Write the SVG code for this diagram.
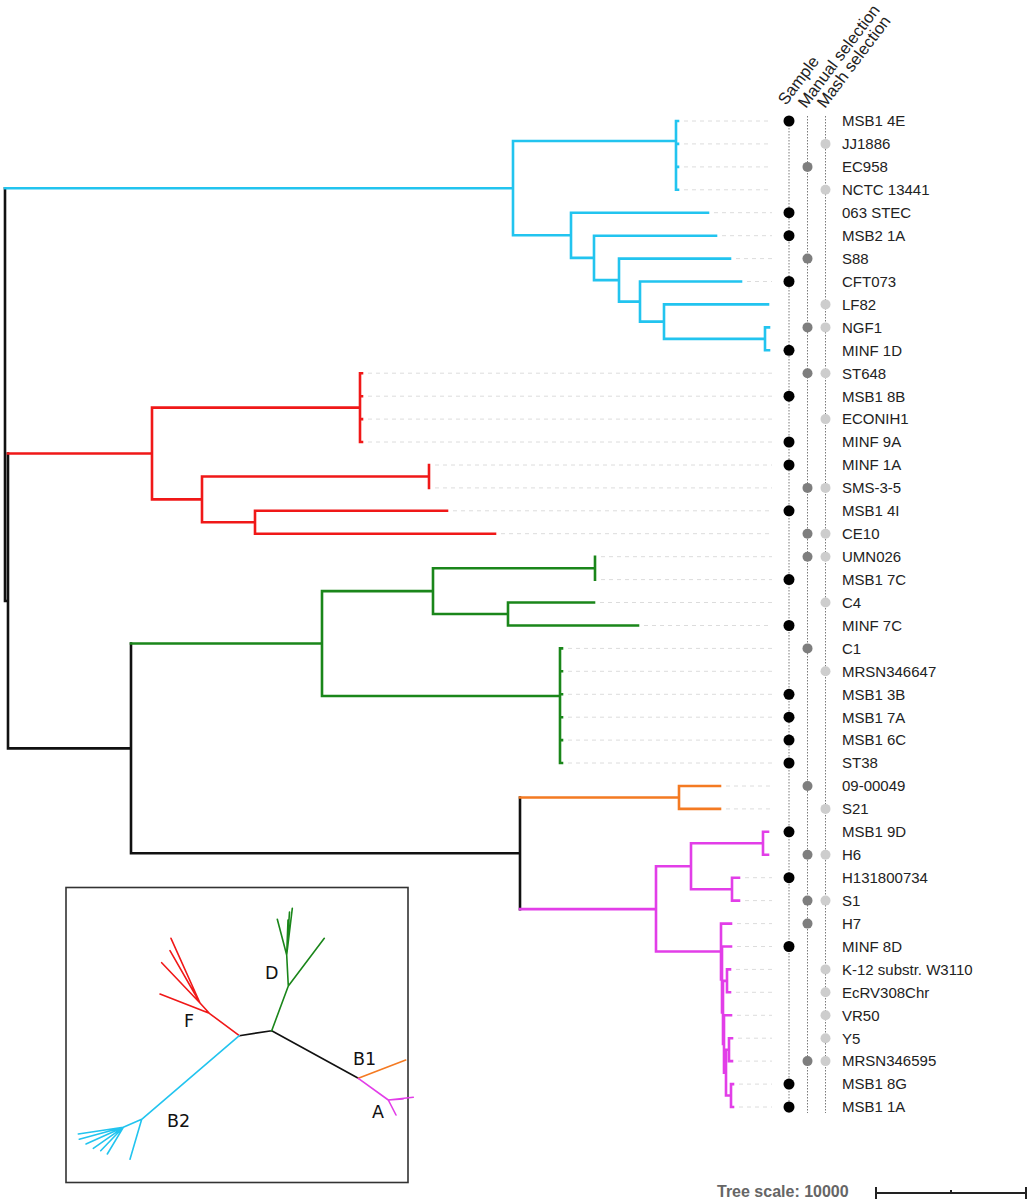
<svg xmlns="http://www.w3.org/2000/svg" width="1031" height="1200" viewBox="0 0 1031 1200">
<style>
.b{fill:none;stroke-width:2.6;stroke-linecap:square;stroke-linejoin:miter}
.k{stroke:#111}
.cy{stroke:#22c4ef}
.rd{stroke:#f01818}
.gn{stroke:#1a861a}
.or{stroke:#f47a22}
.pk{stroke:#e23ee8}
.i{fill:none;stroke-width:1.6;stroke-linecap:round;stroke-linejoin:round}
.ld{stroke:#dcdcdc;stroke-width:1;stroke-dasharray:4 4;fill:none}
.col{stroke:#7a7a7a;stroke-width:1;stroke-dasharray:1.5 1.5;fill:none}
.lb{font-family:"Liberation Sans",Arial,sans-serif;font-size:15px;fill:#222}
.hd{font-family:"Liberation Sans",Arial,sans-serif;font-size:16.5px;fill:#222}
.s{fill:#000}
.m{fill:#7e7e7e}
.h{fill:#cdcdcd}
.il{font-family:"DejaVu Sans",Verdana,sans-serif;font-size:17.5px;fill:#111}
</style>
<rect width="1031" height="1200" fill="#fff"/>

<!-- headers -->
<g id="headers">
<text class="hd" transform="translate(786,106) rotate(-53)">Sample</text>
<text class="hd" transform="translate(806,109) rotate(-53)">Manual selection</text>
<text class="hd" transform="translate(825,109) rotate(-53)">Mash selection</text>
</g>

<!-- columns -->
<g id="columns">
<path class="col" d="M789,116 V1113"/>
<path class="col" d="M807.5,116 V1113"/>
<path class="col" d="M825.5,116 V1113"/>
</g>

<!-- leaders -->
<g id="leaders">
<path class="ld" d="M684,121H772 M684,143.9H772 M684,166.9H772 M684,189.8H772 M714,212.7H772 M722,235.7H772 M736,258.6H772 M747,281.5H772
M368,373.2H772 M368,396.2H772 M368,419.1H772 M368,442H772 M435,465H772 M435,487.9H772 M453,510.8H772 M501,533.7H772
M601,556.7H772 M601,579.6H772 M600,602.5H772 M644,625.5H772 M568,648.4H772 M568,671.3H772 M568,694.3H772 M568,717.2H772 M568,740.1H772 M568,763H772
M726,786H772 M726,808.9H772 M745,877.7H772 M745,900.6H772 M737,923.6H772 M737,946.5H772 M736,969.4H772 M736,992.3H772 M737,1015.3H772 M738,1038.2H772 M738,1061.1H772 M739,1084.1H772 M739,1107H772"/>
</g>

<!-- connectors: tree branches -->
<g id="connectors">
<path class="b k" d="M5,188.2V601 M5,601H8 M8,453.5V748.4 M8,748.4H131 M131,643.5V853.3 M131,853.3H520 M520,797.5V909.1"/>
<path class="b cy" d="M5,188.2H513 M513,141V235.3 M513,141H676 M676,121V189.8 M676,121H678 M676,143.9H678 M676,166.9H678 M676,189.8H678
M513,235.3H571 M571,212.7V257.9 M571,212.7H708 M571,257.9H594 M594,235.7V280.1 M594,235.7H716 M594,280.1H619 M619,258.6V301.6 M619,258.6H730
M619,301.6H640 M640,281.5V321.6 M640,281.5H741 M640,321.6H664 M664,304.4V338.9 M664,304.4H768 M664,338.9H765 M765,327.4V350.3 M765,327.4H769 M765,350.3H769"/>
<path class="b rd" d="M8,453.5H152 M152,407.6V499.4 M152,407.6H360 M360,373.2V442 M360,373.2H362 M360,396.2H362 M360,419.1H362 M360,442H362
M152,499.4H202 M202,476.5V522.3 M202,476.5H429 M429,465V487.9 M202,522.3H255 M255,510.8V533.7 M255,510.8H447 M255,533.7H495"/>
<path class="b gn" d="M131,643.5H322 M322,591.1V696 M322,591.1H433 M433,568.2V614 M433,568.2H595 M595,556.7V579.6 M433,614H508 M508,602.5V625.5 M508,602.5H594 M508,625.5H638
M322,696H560 M560,648.4V763 M560,648.4H562 M560,671.3H562 M560,694.3H562 M560,717.2H562 M560,740.1H562 M560,763H562"/>
<path class="b or" d="M520,797.5H679 M679,786V808.9 M679,786H720 M679,808.9H720"/>
<path class="b pk" d="M520,909.1H656 M656,866.2V951.5 M656,866.2H691 M691,843.3V889.2 M691,843.3H763 M763,831.8V854.8 M763,831.8H768 M763,854.8H768
M691,889.2H732 M732,877.7V900.6 M732,877.7H739 M732,900.6H739
M656,951.5H721 M721,923.6V979.5 M721,923.6H731 M721,979.5H722 M722,946.5V1012.4 M722,946.5H731 M722,1012.4H723 M723,980.9V1044 M723,980.9H727
M727,969.4V992.3 M727,969.4H730 M727,992.3H730 M723,1044H724 M724,1015.3V1072.6 M724,1015.3H731 M724,1072.6H726 M726,1049.7V1095.5 M726,1049.7H729
M729,1038.2V1061.1 M729,1038.2H732 M729,1061.1H732 M726,1095.5H731 M731,1084.1V1107 M731,1084.1H733 M731,1107H733"/>
</g>

<!-- leaves -->
<g id="leaf-MSB1-4E"><circle class="s" cx="789" cy="121" r="5.5"/><text class="lb" x="842" y="126.3">MSB1 4E</text></g>
<g id="leaf-JJ1886"><circle class="h" cx="825.5" cy="143.9" r="5"/><text class="lb" x="842" y="149.2">JJ1886</text></g>
<g id="leaf-EC958"><circle class="m" cx="807.5" cy="166.9" r="5"/><text class="lb" x="842" y="172.2">EC958</text></g>
<g id="leaf-NCTC-13441"><circle class="h" cx="825.5" cy="189.8" r="5"/><text class="lb" x="842" y="195.1">NCTC 13441</text></g>
<g id="leaf-063-STEC"><circle class="s" cx="789" cy="212.7" r="5.5"/><text class="lb" x="842" y="218">063 STEC</text></g>
<g id="leaf-MSB2-1A"><circle class="s" cx="789" cy="235.7" r="5.5"/><text class="lb" x="842" y="241">MSB2 1A</text></g>
<g id="leaf-S88"><circle class="m" cx="807.5" cy="258.6" r="5"/><text class="lb" x="842" y="263.9">S88</text></g>
<g id="leaf-CFT073"><circle class="s" cx="789" cy="281.5" r="5.5"/><text class="lb" x="842" y="286.8">CFT073</text></g>
<g id="leaf-LF82"><circle class="h" cx="825.5" cy="304.4" r="5"/><text class="lb" x="842" y="309.7">LF82</text></g>
<g id="leaf-NGF1"><circle class="m" cx="807.5" cy="327.4" r="5"/><circle class="h" cx="825.5" cy="327.4" r="5"/><text class="lb" x="842" y="332.7">NGF1</text></g>
<g id="leaf-MINF-1D"><circle class="s" cx="789" cy="350.3" r="5.5"/><text class="lb" x="842" y="355.6">MINF 1D</text></g>
<g id="leaf-ST648"><circle class="m" cx="807.5" cy="373.2" r="5"/><circle class="h" cx="825.5" cy="373.2" r="5"/><text class="lb" x="842" y="378.5">ST648</text></g>
<g id="leaf-MSB1-8B"><circle class="s" cx="789" cy="396.2" r="5.5"/><text class="lb" x="842" y="401.5">MSB1 8B</text></g>
<g id="leaf-ECONIH1"><circle class="h" cx="825.5" cy="419.1" r="5"/><text class="lb" x="842" y="424.4">ECONIH1</text></g>
<g id="leaf-MINF-9A"><circle class="s" cx="789" cy="442" r="5.5"/><text class="lb" x="842" y="447.3">MINF 9A</text></g>
<g id="leaf-MINF-1A"><circle class="s" cx="789" cy="465" r="5.5"/><text class="lb" x="842" y="470.3">MINF 1A</text></g>
<g id="leaf-SMS-3-5"><circle class="m" cx="807.5" cy="487.9" r="5"/><circle class="h" cx="825.5" cy="487.9" r="5"/><text class="lb" x="842" y="493.2">SMS-3-5</text></g>
<g id="leaf-MSB1-4I"><circle class="s" cx="789" cy="510.8" r="5.5"/><text class="lb" x="842" y="516.1">MSB1 4I</text></g>
<g id="leaf-CE10"><circle class="m" cx="807.5" cy="533.7" r="5"/><circle class="h" cx="825.5" cy="533.7" r="5"/><text class="lb" x="842" y="539">CE10</text></g>
<g id="leaf-UMN026"><circle class="m" cx="807.5" cy="556.7" r="5"/><circle class="h" cx="825.5" cy="556.7" r="5"/><text class="lb" x="842" y="562">UMN026</text></g>
<g id="leaf-MSB1-7C"><circle class="s" cx="789" cy="579.6" r="5.5"/><text class="lb" x="842" y="584.9">MSB1 7C</text></g>
<g id="leaf-C4"><circle class="h" cx="825.5" cy="602.5" r="5"/><text class="lb" x="842" y="607.8">C4</text></g>
<g id="leaf-MINF-7C"><circle class="s" cx="789" cy="625.5" r="5.5"/><text class="lb" x="842" y="630.8">MINF 7C</text></g>
<g id="leaf-C1"><circle class="m" cx="807.5" cy="648.4" r="5"/><text class="lb" x="842" y="653.7">C1</text></g>
<g id="leaf-MRSN346647"><circle class="h" cx="825.5" cy="671.3" r="5"/><text class="lb" x="842" y="676.6">MRSN346647</text></g>
<g id="leaf-MSB1-3B"><circle class="s" cx="789" cy="694.3" r="5.5"/><text class="lb" x="842" y="699.6">MSB1 3B</text></g>
<g id="leaf-MSB1-7A"><circle class="s" cx="789" cy="717.2" r="5.5"/><text class="lb" x="842" y="722.5">MSB1 7A</text></g>
<g id="leaf-MSB1-6C"><circle class="s" cx="789" cy="740.1" r="5.5"/><text class="lb" x="842" y="745.4">MSB1 6C</text></g>
<g id="leaf-ST38"><circle class="s" cx="789" cy="763" r="5.5"/><text class="lb" x="842" y="768.3">ST38</text></g>
<g id="leaf-09-00049"><circle class="m" cx="807.5" cy="786" r="5"/><text class="lb" x="842" y="791.3">09-00049</text></g>
<g id="leaf-S21"><circle class="h" cx="825.5" cy="808.9" r="5"/><text class="lb" x="842" y="814.2">S21</text></g>
<g id="leaf-MSB1-9D"><circle class="s" cx="789" cy="831.8" r="5.5"/><text class="lb" x="842" y="837.1">MSB1 9D</text></g>
<g id="leaf-H6"><circle class="m" cx="807.5" cy="854.8" r="5"/><circle class="h" cx="825.5" cy="854.8" r="5"/><text class="lb" x="842" y="860.1">H6</text></g>
<g id="leaf-H131800734"><circle class="s" cx="789" cy="877.7" r="5.5"/><text class="lb" x="842" y="883">H131800734</text></g>
<g id="leaf-S1"><circle class="m" cx="807.5" cy="900.6" r="5"/><circle class="h" cx="825.5" cy="900.6" r="5"/><text class="lb" x="842" y="905.9">S1</text></g>
<g id="leaf-H7"><circle class="m" cx="807.5" cy="923.6" r="5"/><text class="lb" x="842" y="928.9">H7</text></g>
<g id="leaf-MINF-8D"><circle class="s" cx="789" cy="946.5" r="5.5"/><text class="lb" x="842" y="951.8">MINF 8D</text></g>
<g id="leaf-K-12"><circle class="h" cx="825.5" cy="969.4" r="5"/><text class="lb" x="842" y="974.7">K-12 substr. W3110</text></g>
<g id="leaf-EcRV308Chr"><circle class="h" cx="825.5" cy="992.3" r="5"/><text class="lb" x="842" y="997.6">EcRV308Chr</text></g>
<g id="leaf-VR50"><circle class="h" cx="825.5" cy="1015.3" r="5"/><text class="lb" x="842" y="1020.6">VR50</text></g>
<g id="leaf-Y5"><circle class="h" cx="825.5" cy="1038.2" r="5"/><text class="lb" x="842" y="1043.5">Y5</text></g>
<g id="leaf-MRSN346595"><circle class="m" cx="807.5" cy="1061.1" r="5"/><circle class="h" cx="825.5" cy="1061.1" r="5"/><text class="lb" x="842" y="1066.4">MRSN346595</text></g>
<g id="leaf-MSB1-8G"><circle class="s" cx="789" cy="1084.1" r="5.5"/><text class="lb" x="842" y="1089.4">MSB1 8G</text></g>
<g id="leaf-MSB1-1A"><circle class="s" cx="789" cy="1107" r="5.5"/><text class="lb" x="842" y="1112.3">MSB1 1A</text></g>

<!-- inset -->
<g id="inset">
<rect x="66" y="887.5" width="342" height="295" fill="none" stroke="#333" stroke-width="1.6"/>
<path class="i k" d="M239.3,1035.7 L271.7,1030.7 M271.7,1030.7 L358.3,1078.3"/>
<path class="i gn" d="M271.7,1030.7 L288.3,986 L324.3,938.3 M288.3,986 L286.7,955 L277.3,919.3 M286.7,955 L288,920 M286.7,955 L292.3,908.3 M286.7,955 L289.5,912"/>
<path class="i rd" d="M239.3,1035.7 L209.3,1013.3 L160,994 M209.3,1013.3 L200,1003 L161.7,962.7 M200,1003 L171,938.3 M200,1003 L170,950.7"/>
<path class="i cy" d="M239.3,1035.7 L141.7,1119.3 L130,1159.3 M141.7,1119.3 L123.3,1127.3 L78.3,1134 M123.3,1127.3 L79.3,1139.3 M123.3,1127.3 L86,1144 M123.3,1127.3 L93.3,1148.3 M123.3,1127.3 L100.7,1150.7 M123.3,1127.3 L107.3,1154"/>
<path class="i or" d="M358.3,1078.3 L405.7,1060"/>
<path class="i pk" d="M358.3,1078.3 L388.3,1100 L413.3,1097.3 M388.3,1100 L403.3,1099 M388.3,1100 L396,1115"/>
<text class="il" x="265" y="979">D</text>
<text class="il" x="184" y="1027">F</text>
<text class="il" x="353" y="1065">B1</text>
<text class="il" x="372" y="1118">A</text>
<text class="il" x="167" y="1127">B2</text>
</g>

<!-- scale -->
<g id="scale">
<text x="717" y="1197" font-family="Liberation Sans, Arial, sans-serif" font-size="16" font-weight="bold" fill="#666">Tree scale: 10000</text>
<path d="M876,1193H1026 M876,1187V1199 M1026,1187V1199 M951,1190V1193" fill="none" stroke="#222" stroke-width="2"/>
</g>
</svg>
